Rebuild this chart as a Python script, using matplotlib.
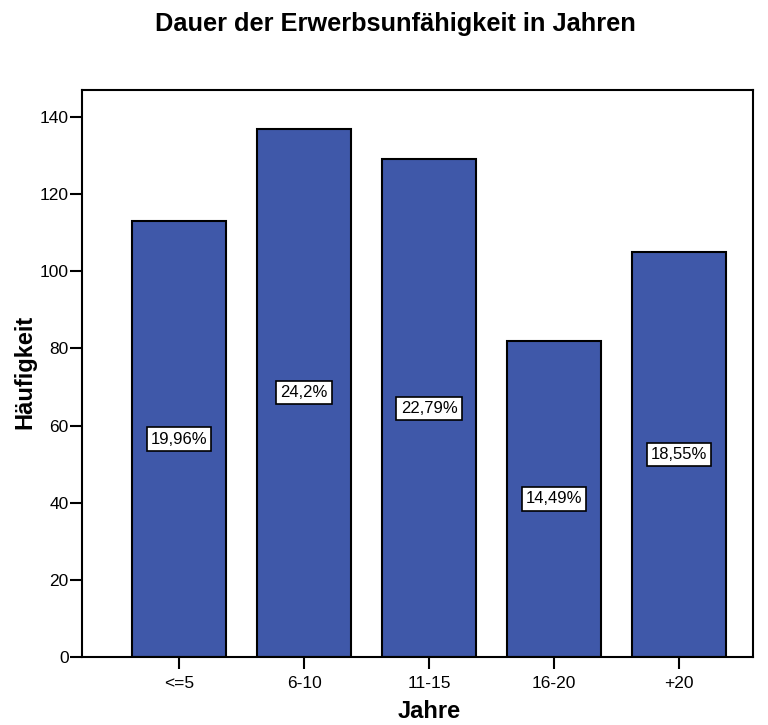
import matplotlib
matplotlib.use("Agg")
import matplotlib.pyplot as plt

categories = ["<=5", "6-10", "11-15", "16-20", "+20"]
counts = [113, 137, 129, 82, 105]
percent_labels = ["19,96%", "24,2%", "22,79%", "14,49%", "18,55%"]
y_ticks = [0, 20, 40, 60, 80, 100, 120, 140]

plt.rcParams["font.family"] = ["Liberation Sans", "DejaVu Sans"]

W, H = 768, 725
fig = plt.figure(figsize=(W / 100, H / 100), dpi=100)
ax = fig.add_axes([82 / W, 1 - 657 / H, (753 - 82) / W, (657 - 90) / H])

x = list(range(len(categories)))
ax.bar(x, counts, width=0.75, color="#3F58A9", edgecolor="black", linewidth=1.5)

for xi, c, lab in zip(x, counts, percent_labels):
    ax.text(xi, c / 2, lab, ha="center", va="center", fontsize=12,
            bbox=dict(boxstyle="square,pad=0.25", facecolor="white",
                      edgecolor="black", linewidth=1.2))

ax.set_xlim(-0.776, 4.592)
ax.set_ylim(0, 147)
ax.set_xticks(x)
ax.set_xticklabels(categories, fontsize=12.5)
ax.set_yticks(y_ticks)
ax.set_yticklabels([str(v) for v in y_ticks], fontsize=12.5)
ax.tick_params(axis="both", direction="out", length=8.5, width=1.5)
ax.tick_params(axis="y", pad=1)
ax.tick_params(axis="x", pad=5)

for s in ax.spines.values():
    s.set_linewidth(1.5)

# Axis titles are centred on the span of the bars
fig.text(429 / W, 1 - 712 / H, "Jahre", ha="center", va="center",
         fontsize=17, fontweight="bold")
fig.text(25 / W, 1 - 372 / H, "Häufigkeit", ha="center", va="center",
         rotation=90, fontsize=17, fontweight="bold")
fig.text(395 / W, 1 - 24 / H, "Dauer der Erwerbsunfähigkeit in Jahren",
         ha="center", va="center", fontsize=18.3, fontweight="bold")

fig.savefig("out.png", dpi=100)
